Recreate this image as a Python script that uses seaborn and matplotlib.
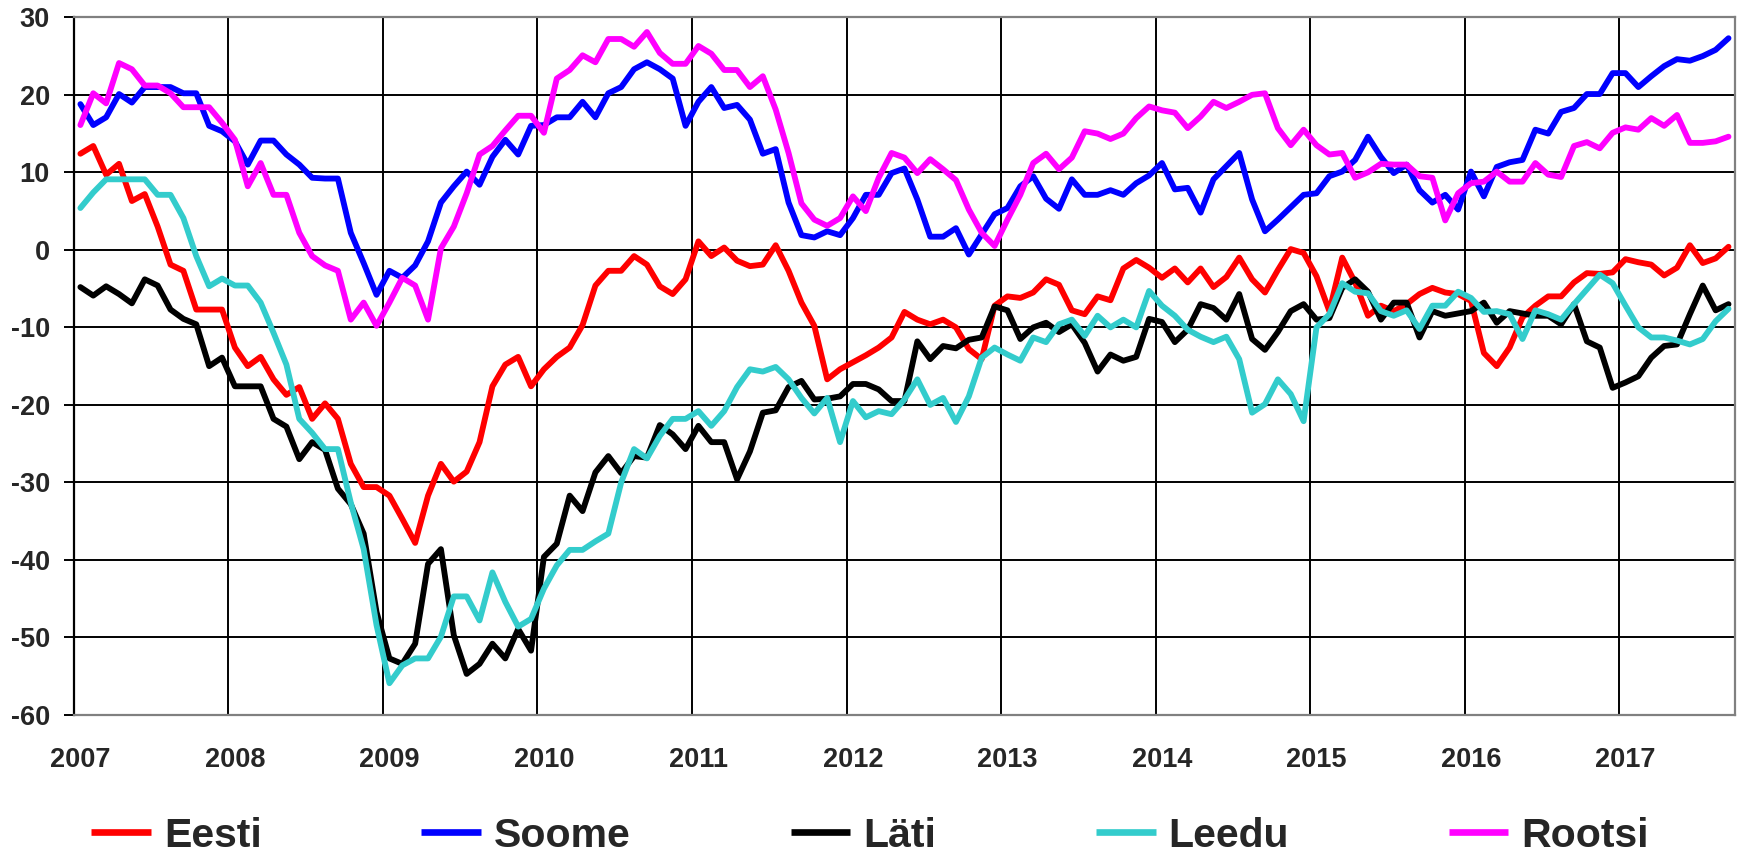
import matplotlib
matplotlib.use("Agg")
import matplotlib.pyplot as plt
import numpy as np
import pandas as pd
import seaborn as sns

# Monthly values, Jan 2007 .. Sep 2017
START_YEAR = 2007
YEARS = list(range(2007, 2018))

eesti = [
    12.4, 13.4, 9.7, 11.1, 6.3, 7.2, 3.0, -1.9, -2.7, -7.7, -7.7, -7.7,
    -12.6, -15.0, -13.8, -16.7, -18.7, -17.7, -21.8, -19.8, -21.8, -27.6, -30.6, -30.6,
    -31.7, -34.7, -37.8, -31.7, -27.6, -29.9, -28.6, -24.8, -17.6, -14.8, -13.8, -17.6,
    -15.4, -13.8, -12.6, -9.7, -4.6, -2.7, -2.7, -0.8, -1.9, -4.7, -5.7, -3.8,
    1.1, -0.8, 0.3, -1.4, -2.1, -1.9, 0.6, -2.7, -6.8, -9.8, -16.7, -15.4,
    -14.5, -13.6, -12.6, -11.3, -8.0, -9.0, -9.6, -9.0, -10.0, -12.8, -14.1, -7.2,
    -6.0, -6.2, -5.5, -3.8, -4.5, -7.8, -8.3, -6.0, -6.5, -2.4, -1.3, -2.3,
    -3.6, -2.4, -4.2, -2.4, -4.8, -3.5, -1.0, -3.8, -5.5, -2.6, 0.1, -0.4,
    -3.4, -7.9, -1.0, -4.2, -8.5, -7.2, -7.9, -7.0, -5.7, -4.9, -5.5, -5.7,
    -6.6, -13.3, -15.0, -12.6, -8.7, -7.2, -6.0, -6.0, -4.2, -3.0, -3.1, -2.9,
    -1.2, -1.6, -1.9, -3.3, -2.3, 0.6, -1.7, -1.1, 0.4,
]
soome = [
    18.8, 16.1, 17.1, 20.1, 19.0, 21.0, 21.0, 21.0, 20.2, 20.2, 16.0, 15.3,
    14.0, 11.0, 14.1, 14.1, 12.3, 11.0, 9.3, 9.2, 9.2, 2.2, -1.7, -5.8,
    -2.7, -3.6, -2.0, 1.1, 6.1, 8.2, 10.1, 8.4, 12.0, 14.2, 12.3, 16.0,
    16.1, 17.1, 17.1, 19.1, 17.1, 20.2, 21.0, 23.3, 24.2, 23.3, 22.1, 16.0,
    19.1, 21.0, 18.3, 18.7, 16.8, 12.4, 13.0, 6.1, 1.9, 1.6, 2.4, 1.9,
    4.1, 7.1, 7.1, 9.9, 10.5, 6.5, 1.7, 1.7, 2.8, -0.6, 2.0, 4.6,
    5.4, 8.2, 9.5, 6.6, 5.3, 9.1, 7.1, 7.1, 7.7, 7.1, 8.6, 9.6,
    11.2, 7.8, 8.0, 4.8, 9.1, 10.8, 12.5, 6.5, 2.4, 3.9, 5.5, 7.1,
    7.3, 9.5, 10.1, 11.6, 14.6, 12.0, 9.9, 11.0, 7.7, 6.1, 7.1, 5.2,
    10.1, 6.9, 10.7, 11.3, 11.6, 15.5, 15.0, 17.8, 18.3, 20.1, 20.1, 22.8,
    22.8, 21.0, 22.4, 23.7, 24.6, 24.4, 25.0, 25.8, 27.3,
]
lati = [
    -4.8, -5.9, -4.7, -5.7, -6.9, -3.8, -4.6, -7.7, -8.9, -9.6, -15.0, -13.9,
    -17.6, -17.6, -17.6, -21.8, -22.8, -27.0, -24.8, -25.8, -30.8, -32.8, -36.6, -46.7,
    -52.7, -53.4, -50.8, -40.5, -38.6, -49.7, -54.7, -53.4, -50.8, -52.7, -48.9, -51.7,
    -39.6, -37.9, -31.7, -33.7, -28.7, -26.6, -28.8, -26.6, -26.8, -22.6, -23.8, -25.7,
    -22.7, -24.8, -24.8, -29.6, -26.0, -21.0, -20.7, -17.7, -16.9, -19.3, -19.2, -18.9,
    -17.3, -17.3, -18.0, -19.5, -19.5, -11.8, -14.1, -12.4, -12.7, -11.6, -11.3, -7.3,
    -7.8, -11.5, -10.0, -9.4, -10.6, -9.6, -12.0, -15.7, -13.5, -14.3, -13.8, -8.9,
    -9.3, -11.9, -10.3, -7.0, -7.5, -9.0, -5.7, -11.5, -12.9, -10.6, -7.9, -7.0,
    -9.0, -8.8, -4.9, -3.8, -5.4, -9.0, -6.8, -6.8, -11.3, -7.9, -8.5, -8.2,
    -7.9, -6.8, -9.4, -7.9, -8.2, -8.5, -8.5, -9.6, -7.0, -11.8, -12.6, -17.8,
    -17.1, -16.3, -13.9, -12.4, -12.2, -8.3, -4.6, -7.8, -7.0,
]
leedu = [
    5.4, 7.4, 9.1, 9.1, 9.1, 9.1, 7.1, 7.1, 4.1, -0.8, -4.7, -3.7,
    -4.6, -4.6, -6.8, -10.7, -14.8, -21.8, -23.6, -25.7, -25.7, -32.6, -38.6, -48.4,
    -55.9, -53.6, -52.7, -52.7, -49.9, -44.7, -44.7, -47.8, -41.6, -45.4, -48.6, -47.6,
    -43.7, -40.7, -38.7, -38.7, -37.6, -36.6, -30.0, -25.7, -26.9, -24.0, -21.8, -21.8,
    -20.8, -22.7, -20.8, -17.7, -15.4, -15.7, -15.1, -16.7, -19.1, -21.1, -19.1, -24.8,
    -19.5, -21.6, -20.8, -21.2, -19.3, -16.7, -20.0, -19.1, -22.2, -18.9, -13.9, -12.6,
    -13.5, -14.3, -11.3, -11.9, -9.6, -9.0, -11.1, -8.5, -10.0, -9.0, -10.0, -5.3,
    -7.2, -8.5, -10.3, -11.2, -11.9, -11.2, -14.1, -21.0, -19.9, -16.7, -18.6, -22.1,
    -10.0, -8.3, -4.3, -5.4, -5.6, -7.9, -8.5, -7.8, -10.2, -7.2, -7.2, -5.4,
    -6.2, -8.0, -7.9, -8.3, -11.5, -7.8, -8.3, -9.0, -7.0, -5.1, -3.2, -4.3,
    -7.2, -10.0, -11.3, -11.3, -11.7, -12.2, -11.5, -9.2, -7.6,
]
rootsi = [
    16.1, 20.2, 18.9, 24.1, 23.3, 21.2, 21.2, 20.2, 18.4, 18.4, 18.4, 16.4,
    14.2, 8.2, 11.2, 7.1, 7.1, 2.2, -0.8, -2.0, -2.7, -9.0, -6.8, -9.8,
    -6.8, -3.6, -4.6, -9.0, 0.2, 3.0, 7.3, 12.3, 13.4, 15.4, 17.3, 17.3,
    15.1, 22.1, 23.2, 25.1, 24.2, 27.2, 27.2, 26.2, 28.1, 25.4, 24.0, 24.0,
    26.3, 25.3, 23.2, 23.2, 21.0, 22.4, 18.1, 12.5, 6.0, 3.9, 3.1, 4.1,
    6.9, 5.0, 9.3, 12.5, 11.9, 9.9, 11.7, 10.4, 9.0, 5.2, 2.2, 0.5,
    3.9, 7.1, 11.2, 12.4, 10.4, 11.9, 15.3, 15.0, 14.3, 15.0, 17.0, 18.5,
    18.0, 17.7, 15.7, 17.2, 19.1, 18.3, 19.1, 20.0, 20.2, 15.7, 13.5, 15.5,
    13.5, 12.3, 12.5, 9.3, 10.0, 11.1, 11.0, 11.0, 9.5, 9.3, 3.8, 7.3,
    8.6, 8.8, 10.1, 8.8, 8.8, 11.2, 9.7, 9.4, 13.4, 13.9, 13.1, 15.1,
    15.8, 15.5, 17.0, 16.0, 17.4, 13.8, 13.8, 14.0, 14.6,
]

SERIES = {"Eesti": eesti, "Soome": soome, "Läti": lati, "Leedu": leedu, "Rootsi": rootsi}
COLORS = {"Eesti": "#ff0000", "Soome": "#0000ff", "Läti": "#000000", "Leedu": "#33cccc", "Rootsi": "#ff00ff"}

n_months = len(eesti)
# Each month sits in the middle of its slot on the axis
month_pos = np.arange(n_months) + 0.5

frames = []
for name, values in SERIES.items():
    frames.append(pd.DataFrame({"kuu": month_pos, "vaartus": values, "riik": name}))
df = pd.concat(frames, ignore_index=True)

sns.set_style("white")
plt.rcParams["font.family"] = ["Liberation Sans", "DejaVu Sans"]
plt.rcParams["font.weight"] = "bold"
plt.rcParams["axes.unicode_minus"] = False

fig = plt.figure(figsize=(17.4, 8.56), dpi=100)
ax = fig.add_axes([0.0425, 0.1647, 0.9546, 0.8151])

sns.lineplot(data=df, x="kuu", y="vaartus", hue="riik", palette=COLORS,
             linewidth=4.2, ax=ax, legend=True)

# Axes limits and grid
ax.set_xlim(0, n_months)
ax.set_ylim(-60, 30)
ax.set_yticks(np.arange(-60, 31, 10))
ax.set_xticks([(y - START_YEAR) * 12 for y in YEARS])
ax.set_xticklabels([])
ax.set_xticks([(y - START_YEAR) * 12 + 0.5 for y in YEARS], minor=True)
ax.set_xticklabels([str(y) for y in YEARS], minor=True, fontsize=19.5, fontweight="bold")
ax.tick_params(axis="x", which="both", length=0, pad=23)
ax.tick_params(axis="y", length=7.3, width=1.4, color="black", pad=10,
               labelsize=19.5, left=True)
for lab in ax.get_yticklabels():
    lab.set_fontweight("bold")

ax.grid(True, which="major", color="black", linewidth=1.4)
ax.set_axisbelow(True)
ax.set_xlabel("")
ax.set_ylabel("")

for side in ["top", "right", "bottom"]:
    ax.spines[side].set_color("#808080")
    ax.spines[side].set_linewidth(1.6)
ax.spines["left"].set_color("black")
ax.spines["left"].set_linewidth(1.6)

# Legend below the chart
handles, labels = ax.get_legend_handles_labels()
ax.get_legend().remove()
leg = fig.legend(handles, labels, loc="center", bbox_to_anchor=(0.5, 0.0236),
                 ncol=5, frameon=False, prop={"size": 29.5, "weight": "bold"},
                 handlelength=1.46, handletextpad=0.31, columnspacing=3.9,
                 borderpad=0, borderaxespad=0)
for line in leg.get_lines():
    line.set_linewidth(4.8)
    line.set_solid_capstyle("butt")

fig.savefig("out.png", dpi=100)
